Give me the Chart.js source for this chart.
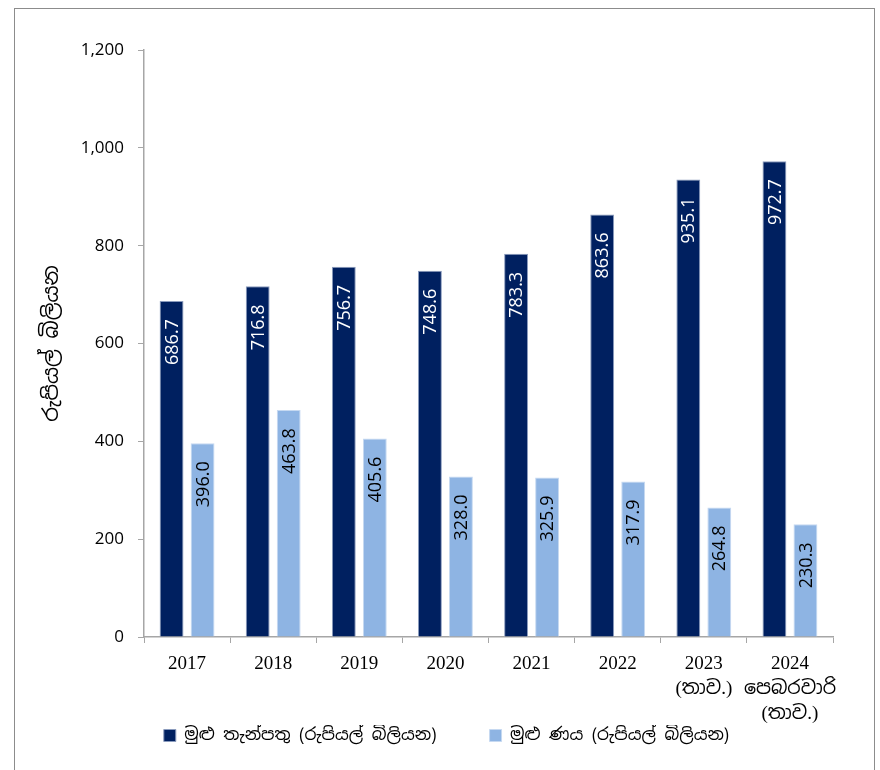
<!DOCTYPE html>
<html>
<head>
<meta charset="utf-8">
<script src="https://cdn.jsdelivr.net/npm/chart.js@4.4.1/dist/chart.umd.min.js"></script>
<style>
  body { margin: 0; background: #fff; }
  #frame { position: absolute; left: 14px; top: 8px; width: 861px; height: 800px; border: 1.5px solid #8c8c8c; box-sizing: border-box; }
  #wrap { position: absolute; left: 0; top: 0; width: 880px; height: 770px; }
</style>
</head>
<body>
<div id="frame"></div>
<div id="wrap"><canvas id="depositChart" width="880" height="770"></canvas></div>
<script>
// Categories and values
const years = ['2017', '2018', '2019', '2020', '2021', '2022', ['2023', '(තාව.)'], ['2024', 'පෙබරවාරි', '(තාව.)']];
const deposits = [686.7, 716.8, 756.7, 748.6, 783.3, 863.6, 935.1, 972.7];
const loans = [396.0, 463.8, 405.6, 328.0, 325.9, 317.9, 264.8, 230.3];
const yTicks = [0, 200, 400, 600, 800, 1000, 1200];

const sinhala = "'Noto Sans Sinhala', 'Iskoola Pota', 'Noto Sans', sans-serif";

// Writes the value inside the top of every bar, turned on its side
const barLabels = {
    id: 'barLabels',
    afterDatasetsDraw(chart) {
        const ctx = chart.ctx;
        chart.data.datasets.forEach((ds, i) => {
            chart.getDatasetMeta(i).data.forEach((bar, j) => {
                ctx.save();
                ctx.translate(bar.x, bar.y + 18);
                ctx.rotate(-Math.PI / 2);
                ctx.font = '18px "Open Sans", sans-serif';
                ctx.fillStyle = i === 0 ? '#ffffff' : '#000000';
                ctx.textAlign = 'right';
                ctx.textBaseline = 'middle';
                ctx.fillText(ds.data[j].toFixed(1), 0, 1);
                ctx.restore();
            });
        });
    }
};

// Fixed height for the legend block, nudged a little to the right
const legendBox = {
    id: 'legendBox',
    afterInit(chart) {
        const lg = chart.legend;
        if (!lg) return;
        const fit = lg.fit.bind(lg);
        lg.fit = function () {
            fit();
            this.height = 33;
        };
    },
    afterLayout(chart) {
        const lg = chart.legend;
        if (!lg) return;
        lg.left += 10;
        lg.right += 10;
    }
};

const ctx = document.getElementById('depositChart').getContext('2d');
new Chart(ctx, {
    type: 'bar',
    data: {
        labels: years,
        datasets: [{
            label: 'මුළු තැන්පතු (රුපියල් බිලියන)',
            data: deposits,
            backgroundColor: '#002060',
            borderColor: '#8a9bbd',
            borderWidth: 1,
            categoryPercentage: 0.72,
            barPercentage: 0.77
        }, {
            label: 'මුළු ණය (රුපියල් බිලියන)',
            data: loans,
            backgroundColor: '#8eb4e3',
            borderColor: '#c6d9f1',
            borderWidth: 1,
            categoryPercentage: 0.72,
            barPercentage: 0.77
        }]
    },
    options: {
        responsive: false,
        animation: false,
        layout: { padding: { left: 40, right: 47, top: 50, bottom: 12 } },
        scales: {
            x: {
                grid: { display: true, offset: true, drawOnChartArea: false, tickLength: 6, color: '#a6a6a6' },
                border: { color: '#a6a6a6', width: 1.5 },
                ticks: {
                    color: '#000',
                    autoSkip: false,
                    maxRotation: 0,
                    font: { family: "'Liberation Serif', 'Noto Sans Sinhala', serif", size: 19, lineHeight: 1.3 },
                    padding: 9
                },
                afterFit: s => { s.height = 88; }
            },
            y: {
                min: 0,
                max: 1200,
                afterBuildTicks: s => { s.ticks = yTicks.map(v => ({ value: v })); },
                grid: { display: true, drawOnChartArea: false, tickLength: 6, color: '#a6a6a6' },
                border: { color: '#a6a6a6', width: 1.5 },
                ticks: {
                    color: '#000',
                    font: { family: "'Open Sans', sans-serif", size: 17 },
                    padding: 14,
                    callback: v => v.toLocaleString('en-US')
                },
                title: {
                    display: true,
                    text: 'රුපියල් බිලියන',
                    color: '#000',
                    font: { family: sinhala, size: 21 },
                    padding: { top: 0, bottom: 8 }
                },
                afterFit: s => { s.width = 104; }
            }
        },
        plugins: {
            legend: {
                position: 'bottom',
                labels: {
                    boxWidth: 12,
                    boxHeight: 12,
                    padding: 2,
                    color: '#000',
                    font: { family: sinhala, size: 17 },
                    generateLabels: chart => {
                        const items = Chart.defaults.plugins.legend.labels.generateLabels(chart);
                        items[0].text += '\u2003\u2003\u2003';
                        return items;
                    }
                }
            },
            tooltip: { enabled: false }
        }
    },
    plugins: [barLabels, legendBox]
});
</script>
</body>
</html>
